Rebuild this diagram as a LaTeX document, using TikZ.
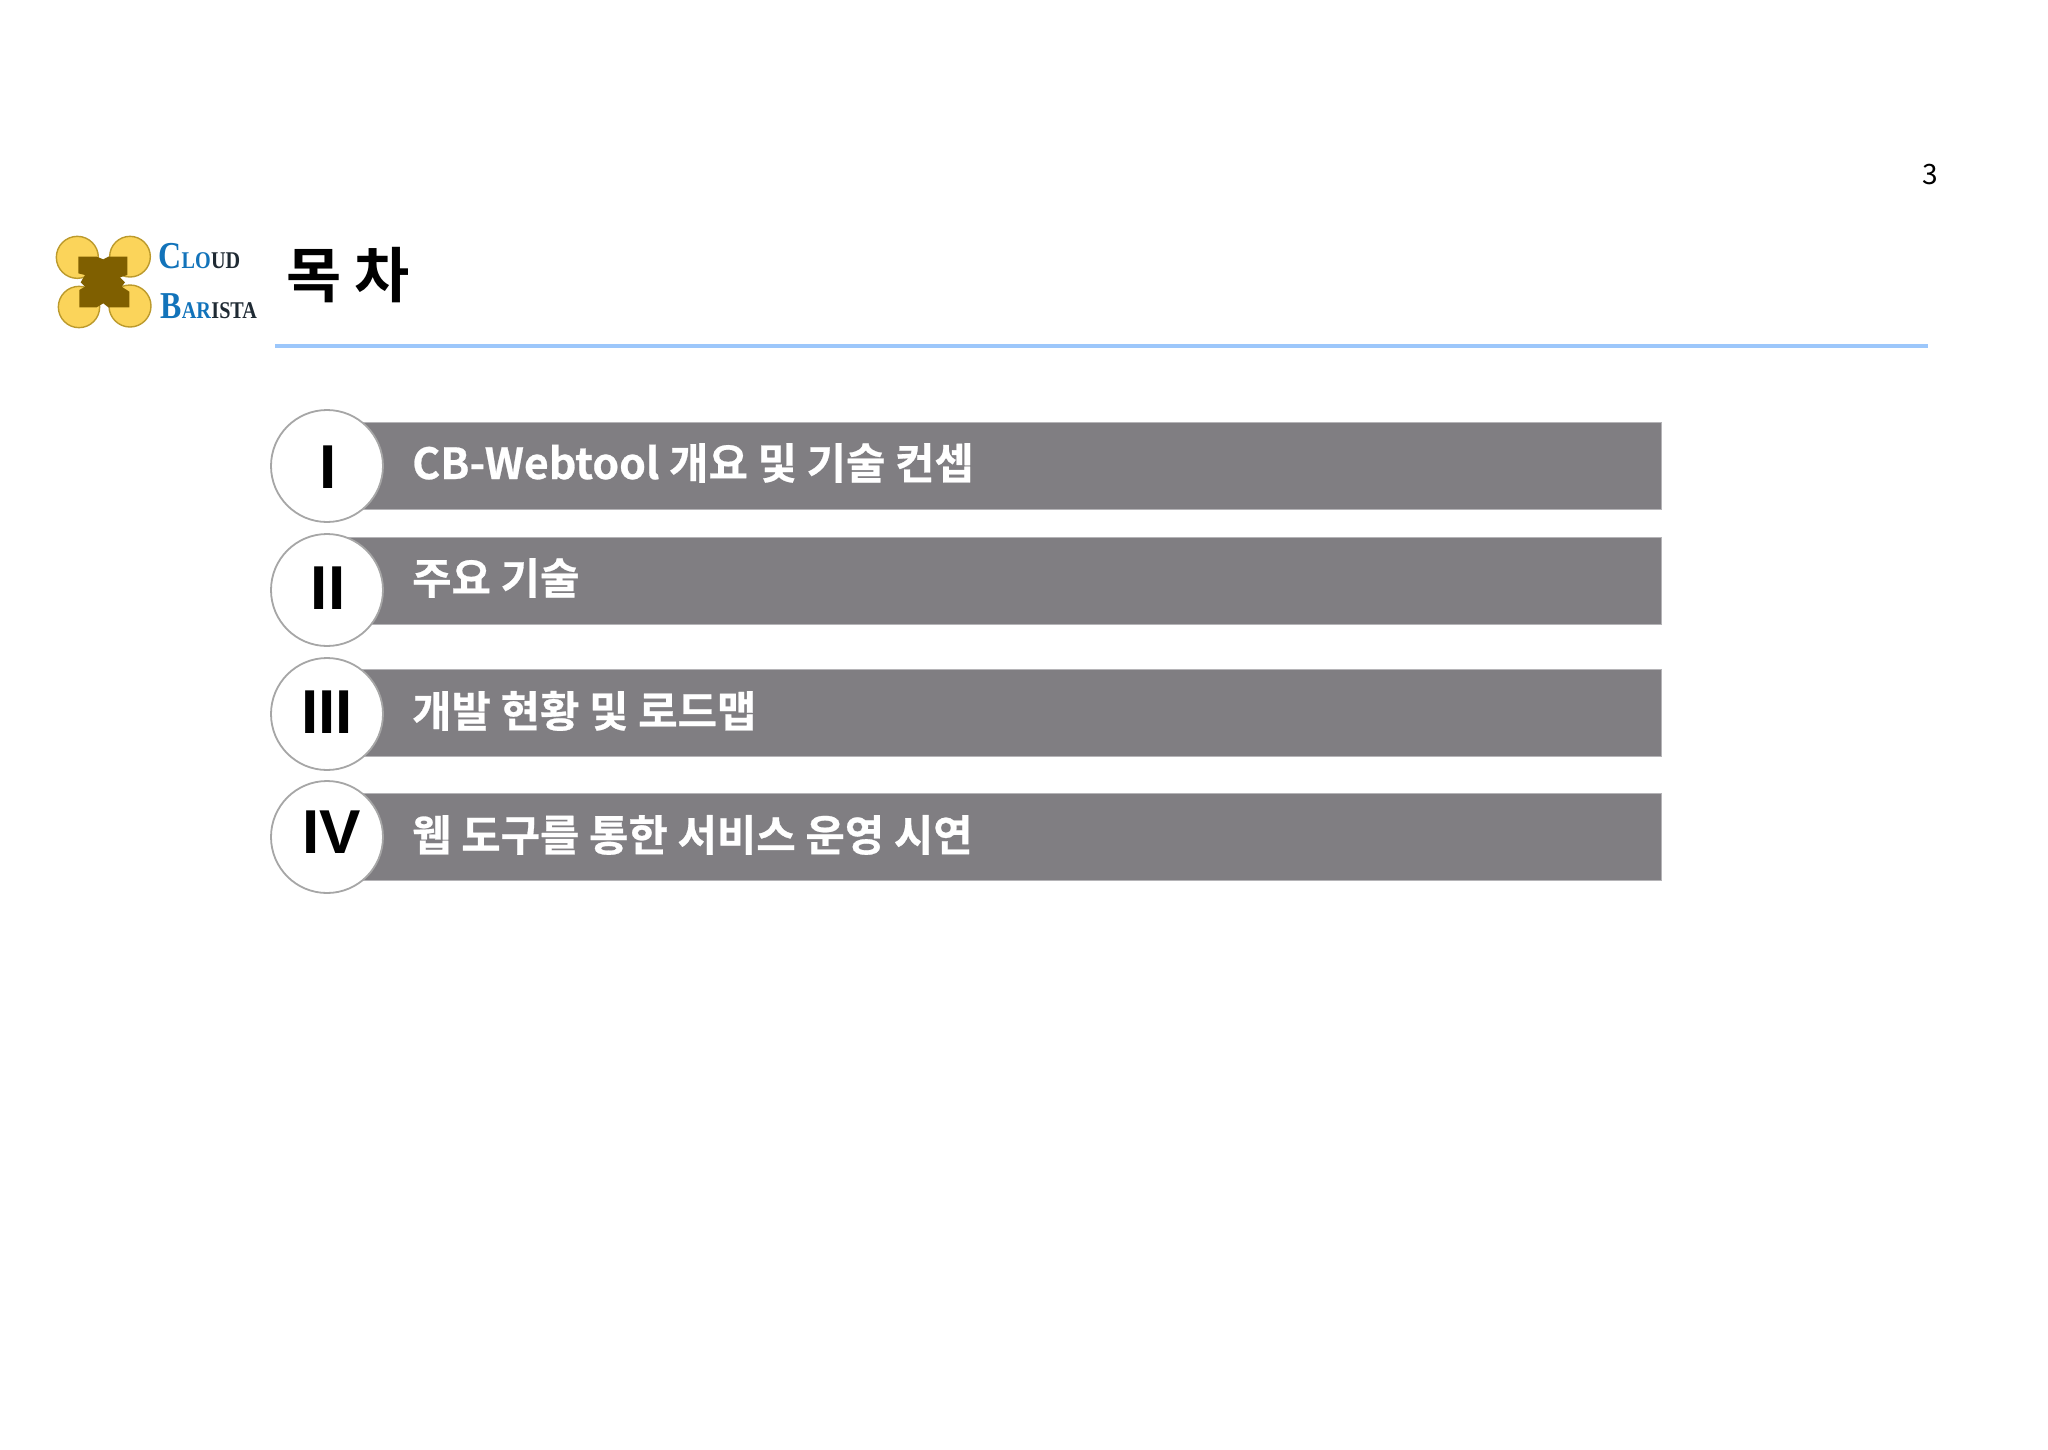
\documentclass[tikz,border=0pt]{standalone}
\usepackage{fontspec}
\setmainfont{Noto Sans CJK KR}[BoldFont={* Bold}]
\newfontfamily\heavyfont{Noto Sans CJK KR}[BoldFont={* Bold},BoldFeatures={FakeBold=0.6}]
\newfontfamily\numfont{Liberation Sans}[BoldFont={* Bold}]
\newfontfamily\logofont{Liberation Serif}[BoldFont={* Bold},BoldFeatures={FakeStretch=0.84}]
\definecolor{barcol}{HTML}{807E82}
\definecolor{barline}{HTML}{B5B4B7}
\definecolor{rulecol}{HTML}{9CC7FB}
\definecolor{ringcol}{HTML}{A6A6A6}
\definecolor{petal}{HTML}{FBD45A}
\definecolor{petalline}{HTML}{BC9A2C}
\definecolor{brown}{HTML}{7F5F00}
\definecolor{logoblue}{HTML}{1273BA}
\definecolor{logodark}{HTML}{1F2A33}
\tikzset{
  barbox/.style={fill=barcol,draw=barline,line width=0.8pt},
  ring/.style={circle,fill=white,draw=ringcol,line width=1.8pt,minimum size=112pt,inner sep=0pt},
  bartext/.style={anchor=base west,inner sep=0pt,text=white,font=\heavyfont\fontsize{42.8}{50}\selectfont\bfseries},
  numeral/.style={anchor=center,inner sep=0pt,text=black,font=\numfont\fontsize{62}{70}\selectfont\bfseries},
  petalc/.style={fill=petal,draw=petalline,line width=1.4pt},
  logobig/.style={anchor=base west,inner sep=0pt,font=\logofont\bfseries\fontsize{38}{40}\selectfont},
  logosmall/.style={anchor=base west,inner sep=0pt,font=\logofont\bfseries\fontsize{24}{28}\selectfont},
}
\begin{document}
\begin{tikzpicture}[x=1pt,y=-1pt]
\useasboundingbox (0,0) rectangle (2048,1449);
\fill[white] (0,0) rectangle (2048,1449);
% page number
\node[anchor=center,inner sep=0pt,font=\fontsize{28}{32}\selectfont] (pg) at (1930,175) {3};
% logo mark
\begin{scope}[shift={(40,220)},scale=1/3]
\draw[petalc] (112,112) circle (63);
\draw[petalc] (270,110) circle (61);
\draw[petalc] (117,261) circle (62);
\draw[petalc] (270,258) circle (63);
\fill[brown] (115,110) -- (170,110) -- (190,118) -- (205,110) -- (262,110) -- (262,165)
  -- (240,172) -- (255,187) -- (245,200) -- (268,215) -- (268,262) -- (205,262) -- (190,250)
  -- (170,262) -- (118,262) -- (118,210) -- (135,200) -- (122,187) -- (135,165) -- (115,160) -- cycle;
\end{scope}
% logo words
\node[logobig,text=logoblue] (c1) at (158,268) {C};
\node[logosmall,text=logoblue] (c2) at (c1.base east) {LO};
\node[logosmall,text=logodark] (c3) at (c2.base east) {UD};
\node[logobig,text=logoblue] (b1) at (160,318) {B};
\node[logosmall,text=logoblue] (b2) at (b1.base east) {AR};
\node[logosmall,text=logodark] (b3) at (b2.base east) {ISTA};
% title
\node[anchor=base west,inner sep=0pt,font=\fontsize{60}{70}\selectfont\bfseries] (title) at (286,297) {목 차};
\draw[rulecol,line width=4pt] (275,345.5) -- (1928,345.5);
% bars
\draw[barbox] (327,422) rectangle (1661,509);
\draw[barbox] (327,537) rectangle (1661,624);
\draw[barbox] (327,669) rectangle (1661,756);
\draw[barbox] (327,793) rectangle (1661,880);
% circles
\node[ring] (r1) at (327,466) {};
\node[ring] (r2) at (327,590) {};
\node[ring] (r3) at (327,714) {};
\node[ring] (r4) at (327,837) {};
\node[numeral] (n1) at (328,467) {I};
\node[numeral] (n2) at (328,588) {II};
\node[numeral] (n3) at (327,712) {III};
\node[numeral] (n4) at (332,832) {IV};
% texts
\node[bartext] (t1) at (412,479) {CB-Webtool 개요 및 기술 컨셉};
\node[bartext] (t2) at (412,594) {주요 기술};
\node[bartext] (t3) at (412,727) {개발 현황 및 로드맵};
\node[bartext] (t4) at (412,851) {웹 도구를 통한 서비스 운영 시연};
\end{tikzpicture}
\end{document}
